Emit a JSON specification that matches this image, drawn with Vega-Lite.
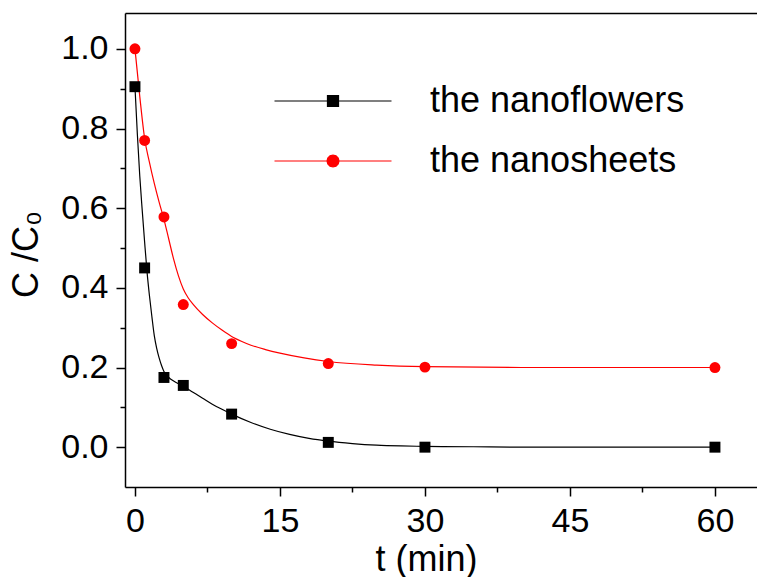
{
  "$schema": "https://vega.github.io/schema/vega-lite/v6.json",
  "width": 632,
  "height": 474,
  "autosize": {"type": "none"},
  "padding": {"left": 125, "top": 13, "right": 0, "bottom": 90},
  "background": "white",
  "config": {
    "view": {"stroke": null},
    "font": "Liberation Sans",
    "axis": {"grid": false, "domainColor": "black", "domainWidth": 1.5, "tickColor": "black", "tickWidth": 1.5, "labelColor": "black", "titleColor": "black", "titleFontWeight": "normal"}
  },
  "datasets": {
    "points": [
      {"series": "the nanoflowers", "t": 0, "c": 0.905},
      {"series": "the nanoflowers", "t": 1, "c": 0.45},
      {"series": "the nanoflowers", "t": 3, "c": 0.175},
      {"series": "the nanoflowers", "t": 5, "c": 0.155},
      {"series": "the nanoflowers", "t": 10, "c": 0.083},
      {"series": "the nanoflowers", "t": 20, "c": 0.012},
      {"series": "the nanoflowers", "t": 30, "c": 0.0},
      {"series": "the nanoflowers", "t": 60, "c": 0.0},
      {"series": "the nanosheets", "t": 0, "c": 1.0},
      {"series": "the nanosheets", "t": 1, "c": 0.77},
      {"series": "the nanosheets", "t": 3, "c": 0.578},
      {"series": "the nanosheets", "t": 5, "c": 0.358},
      {"series": "the nanosheets", "t": 10, "c": 0.26},
      {"series": "the nanosheets", "t": 20, "c": 0.21},
      {"series": "the nanosheets", "t": 30, "c": 0.201},
      {"series": "the nanosheets", "t": 60, "c": 0.2}
    ],
    "curves": [
      {"series": "the nanoflowers", "t": 0, "c": 0.905},
      {"series": "the nanoflowers", "t": 0.25, "c": 0.785},
      {"series": "the nanoflowers", "t": 0.5, "c": 0.68},
      {"series": "the nanoflowers", "t": 0.75, "c": 0.595},
      {"series": "the nanoflowers", "t": 1, "c": 0.515},
      {"series": "the nanoflowers", "t": 1.25, "c": 0.44},
      {"series": "the nanoflowers", "t": 1.5, "c": 0.38},
      {"series": "the nanoflowers", "t": 1.75, "c": 0.328},
      {"series": "the nanoflowers", "t": 2, "c": 0.28},
      {"series": "the nanoflowers", "t": 2.25, "c": 0.248},
      {"series": "the nanoflowers", "t": 2.5, "c": 0.224},
      {"series": "the nanoflowers", "t": 2.75, "c": 0.205},
      {"series": "the nanoflowers", "t": 3, "c": 0.19},
      {"series": "the nanoflowers", "t": 3.5, "c": 0.175},
      {"series": "the nanoflowers", "t": 4, "c": 0.166},
      {"series": "the nanoflowers", "t": 4.5, "c": 0.159},
      {"series": "the nanoflowers", "t": 5, "c": 0.153},
      {"series": "the nanoflowers", "t": 6, "c": 0.138},
      {"series": "the nanoflowers", "t": 7, "c": 0.123},
      {"series": "the nanoflowers", "t": 8, "c": 0.108},
      {"series": "the nanoflowers", "t": 9, "c": 0.095},
      {"series": "the nanoflowers", "t": 10, "c": 0.083},
      {"series": "the nanoflowers", "t": 12, "c": 0.062},
      {"series": "the nanoflowers", "t": 14, "c": 0.045},
      {"series": "the nanoflowers", "t": 16, "c": 0.032},
      {"series": "the nanoflowers", "t": 18, "c": 0.022},
      {"series": "the nanoflowers", "t": 20, "c": 0.015},
      {"series": "the nanoflowers", "t": 22.5, "c": 0.009},
      {"series": "the nanoflowers", "t": 25, "c": 0.005},
      {"series": "the nanoflowers", "t": 27.5, "c": 0.003},
      {"series": "the nanoflowers", "t": 30, "c": 0.002},
      {"series": "the nanoflowers", "t": 35, "c": 0.001},
      {"series": "the nanoflowers", "t": 40, "c": 0.0},
      {"series": "the nanoflowers", "t": 50, "c": 0.0},
      {"series": "the nanoflowers", "t": 60, "c": 0.0},
      {"series": "the nanosheets", "t": 0, "c": 1.0},
      {"series": "the nanosheets", "t": 0.5, "c": 0.88},
      {"series": "the nanosheets", "t": 1, "c": 0.775},
      {"series": "the nanosheets", "t": 1.5, "c": 0.715},
      {"series": "the nanosheets", "t": 2, "c": 0.662},
      {"series": "the nanosheets", "t": 2.5, "c": 0.615},
      {"series": "the nanosheets", "t": 3, "c": 0.572},
      {"series": "the nanosheets", "t": 3.5, "c": 0.522},
      {"series": "the nanosheets", "t": 4, "c": 0.472},
      {"series": "the nanosheets", "t": 4.5, "c": 0.43},
      {"series": "the nanosheets", "t": 5, "c": 0.397},
      {"series": "the nanosheets", "t": 5.5, "c": 0.375},
      {"series": "the nanosheets", "t": 6, "c": 0.359},
      {"series": "the nanosheets", "t": 7, "c": 0.333},
      {"series": "the nanosheets", "t": 8, "c": 0.312},
      {"series": "the nanosheets", "t": 9, "c": 0.294},
      {"series": "the nanosheets", "t": 10, "c": 0.278},
      {"series": "the nanosheets", "t": 11, "c": 0.266},
      {"series": "the nanosheets", "t": 12, "c": 0.256},
      {"series": "the nanosheets", "t": 13.5, "c": 0.245},
      {"series": "the nanosheets", "t": 15, "c": 0.236},
      {"series": "the nanosheets", "t": 17.5, "c": 0.224},
      {"series": "the nanosheets", "t": 20, "c": 0.215},
      {"series": "the nanosheets", "t": 25, "c": 0.206},
      {"series": "the nanosheets", "t": 30, "c": 0.202},
      {"series": "the nanosheets", "t": 40, "c": 0.2},
      {"series": "the nanosheets", "t": 60, "c": 0.2}
    ]
  },
  "layer": [
    {
      "data": {"name": "curves"},
      "mark": {"type": "line", "interpolate": "monotone", "strokeWidth": 1.2},
      "encoding": {
        "x": {
          "field": "t", "type": "quantitative",
          "scale": {"domain": [-1.03, 64.35], "nice": false, "zero": false},
          "axis": {
            "orient": "bottom",
            "values": [0, 7.5, 15, 22.5, 30, 37.5, 45, 52.5, 60],
            "labelExpr": "datum.value % 15 === 0 ? datum.label : ''",
            "tickSize": {"condition": {"test": "datum.value % 15 === 0", "value": 9}, "value": 5},
            "labelFontSize": 34, "labelPadding": 8, "labelFlush": false,
            "title": "t (min)", "titleFontSize": 36,
            "titleX": 301, "titleY": 83, "titleAlign": "center", "titleBaseline": "alphabetic"
          }
        },
        "y": {
          "field": "c", "type": "quantitative",
          "scale": {"domain": [-0.1, 1.09], "nice": false, "zero": false},
          "axis": {
            "orient": "left",
            "values": [0, 0.1, 0.2, 0.3, 0.4, 0.5, 0.6, 0.7, 0.8, 0.9, 1.0],
            "labelExpr": "round(datum.value * 10) % 2 === 0 ? format(datum.value, '.1f') : ''",
            "tickSize": {"condition": {"test": "round(datum.value * 10) % 2 === 0", "value": 9}, "value": 5},
            "labelFontSize": 34, "labelPadding": 8, "labelFlush": false,
            "title": "C /C₀", "titleFontSize": 36,
            "titleX": -88, "titleY": 241, "titleAngle": 270, "titleAlign": "center", "titleBaseline": "alphabetic"
          }
        },
        "color": {
          "field": "series", "type": "nominal",
          "scale": {"domain": ["the nanoflowers", "the nanosheets"], "range": ["#000000", "#ff0000"]},
          "legend": {
            "orient": "none", "legendX": 190, "legendY": 70,
            "title": null, "padding": 0,
            "symbolSize": 144, "symbolStrokeWidth": 1.2,
            "labelFontSize": 36, "labelColor": "black", "labelOffset": 79, "labelLimit": 0, "rowPadding": 24,
            "encode": {
              "symbols": {
                "update": {
                  "shape": {"signal": "datum.value === 'the nanoflowers' ? 'M-9.75,0H9.75M-0.92,-0.92H0.92V0.92H-0.92Z' : 'M-9.75,0H9.75M1,0L0.866,0.5L0.5,0.866L0,1L-0.5,0.866L-0.866,0.5L-1,0L-0.866,-0.5L-0.5,-0.866L0,-1L0.5,-0.866L0.866,-0.5Z'"},
                  "fill": {"signal": "scale('color', datum.value)"},
                  "stroke": {"signal": "scale('color', datum.value)"},
                  "opacity": {"value": 1}
                }
              }
            }
          }
        }
      }
    },
    {
      "data": {"name": "points"},
      "mark": {"type": "point", "filled": true, "opacity": 1},
      "encoding": {
        "x": {
          "field": "t", "type": "quantitative",
          "axis": {"orient": "top", "labels": false, "ticks": false, "title": null}
        },
        "y": {"field": "c", "type": "quantitative"},
        "color": {"field": "series", "type": "nominal", "legend": null},
        "shape": {"field": "series", "type": "nominal", "scale": {"range": ["square", "circle"]}, "legend": null},
        "size": {"value": 120}
      }
    }
  ]
}
